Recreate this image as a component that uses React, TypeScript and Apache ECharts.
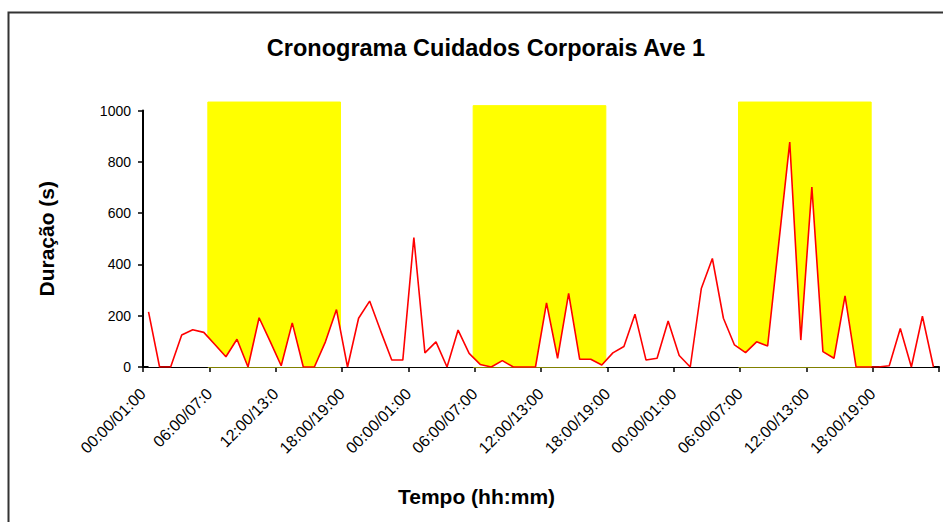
import React, { useEffect, useRef } from "react";
import * as echarts from "echarts";

const TITLE = "Cronograma Cuidados Corporais Ave 1";
const Y_NAME = "Duração (s)";
const X_NAME = "Tempo (hh:mm)";

// tick labels every 6 hours (as printed in the source, incl. truncated ones)
const TICK_LABELS = [
  "00:00/01:00", "06:00/07:0", "12:00/13:0", "18:00/19:00",
  "00:00/01:00", "06:00/07:00", "12:00/13:00", "18:00/19:00",
  "00:00/01:00", "06:00/07:00", "12:00/13:00", "18:00/19:00",
];

// duration (s) per hourly bin, 72 hours
const DURATION = [
  215, 0, 0, 125, 145, 135, 88, 40, 108, 0, 192, 100,
  5, 172, 0, 0, 98, 224, 0, 190, 257, 140, 27, 27,
  505, 55, 98, 0, 144, 53, 10, 0, 25, 0, 0, 0,
  250, 34, 287, 30, 30, 8, 55, 80, 206, 27, 34, 179,
  45, 0, 306, 423, 190, 86, 56, 98, 82, 480, 877, 105,
  702, 60, 34, 277, 0, 0, 0, 5, 150, 0, 198, 0,
];

// light periods: [start hour, end hour, top value]
const LIGHT_BANDS: [number, number, number][] = [
  [6, 18, 1033],
  [30, 42, 1019],
  [54, 66, 1033],
];

const FONT = "'Liberation Sans', Arial, sans-serif";

export default function App() {
  const ref = useRef<HTMLDivElement>(null);

  useEffect(() => {
    document.body.style.margin = "0";
    if (!ref.current) return;
    const chart = echarts.init(ref.current, null, { renderer: "svg" });

    const lineData = DURATION.map((v, i) => [i + 0.5, v]);

    chart.setOption({
      animation: false,
      backgroundColor: "#ffffff",
      textStyle: { fontFamily: FONT },
      title: {
        text: TITLE,
        left: 481,
        top: 31,
        textAlign: "center",
        textStyle: { fontFamily: FONT, fontSize: 23.5, fontWeight: "bold", color: "#000" },
      },
      graphic: [
        {
          type: "rect",
          shape: { x: 8.5, y: 12.5, width: 1000, height: 600 },
          style: { fill: "none", stroke: "#333", lineWidth: 2 },
          silent: true,
        },
        {
          type: "text",
          left: 398,
          top: 486,
          style: {
            text: X_NAME,
            fontFamily: FONT,
            fontSize: 21,
            fontWeight: "bold",
            fill: "#000",
          },
        },
      ],
      grid: { left: 143, right: 4, top: 110.5, bottom: 155, containLabel: false },
      xAxis: {
        type: "value",
        min: 0,
        max: 72,
        interval: 6,
        splitLine: { show: false },
        axisLine: { show: true, onZero: false, lineStyle: { color: "#000", width: 2 } },
        axisTick: { show: true, length: 5, lineStyle: { color: "#000", width: 1.5 } },
        axisLabel: {
          rotate: 45,
          margin: 24,
          fontFamily: FONT,
          fontSize: 16,
          color: "#000",
          formatter: (v: number) => TICK_LABELS[Math.round(v / 6)] ?? "",
        },
      },
      yAxis: {
        type: "value",
        min: 0,
        max: 1000,
        interval: 200,
        name: Y_NAME,
        nameLocation: "middle",
        nameGap: 86,
        nameRotate: 90,
        nameTextStyle: { fontFamily: FONT, fontSize: 21, fontWeight: "bold", color: "#000" },
        splitLine: { show: false },
        axisLine: { show: true, lineStyle: { color: "#000", width: 2 } },
        axisTick: { show: true, length: 5, lineStyle: { color: "#000", width: 1.5 } },
        axisLabel: {
          margin: 12,
          fontFamily: FONT,
          fontSize: 14,
          color: "#000",
          formatter: (v: number) => String(v),
        },
      },
      series: [
        {
          type: "custom",
          z: 1,
          clip: false,
          data: LIGHT_BANDS,
          encode: { x: [0, 1], y: 2 },
          renderItem: (params: any, api: any) => {
            const p0 = api.coord([api.value(0), api.value(2)]);
            const p1 = api.coord([api.value(1), 0]);
            return {
              type: "rect",
              shape: { x: p0[0] - 1.5, y: p0[1], width: p1[0] - p0[0], height: p1[1] - p0[1] },
              style: { fill: "#ffff00", stroke: "#ffff00", lineWidth: 1 },
            };
          },
        },
        {
          type: "line",
          z: 3,
          data: lineData,
          showSymbol: false,
          symbol: "none",
          lineStyle: { color: "#ff0000", width: 1.6 },
          areaStyle: { color: "#ffffff", opacity: 1, origin: "start" },
        },
      ],
    });

    return () => chart.dispose();
  }, []);

  return <div ref={ref} style={{ width: 943, height: 522 }} />;
}
